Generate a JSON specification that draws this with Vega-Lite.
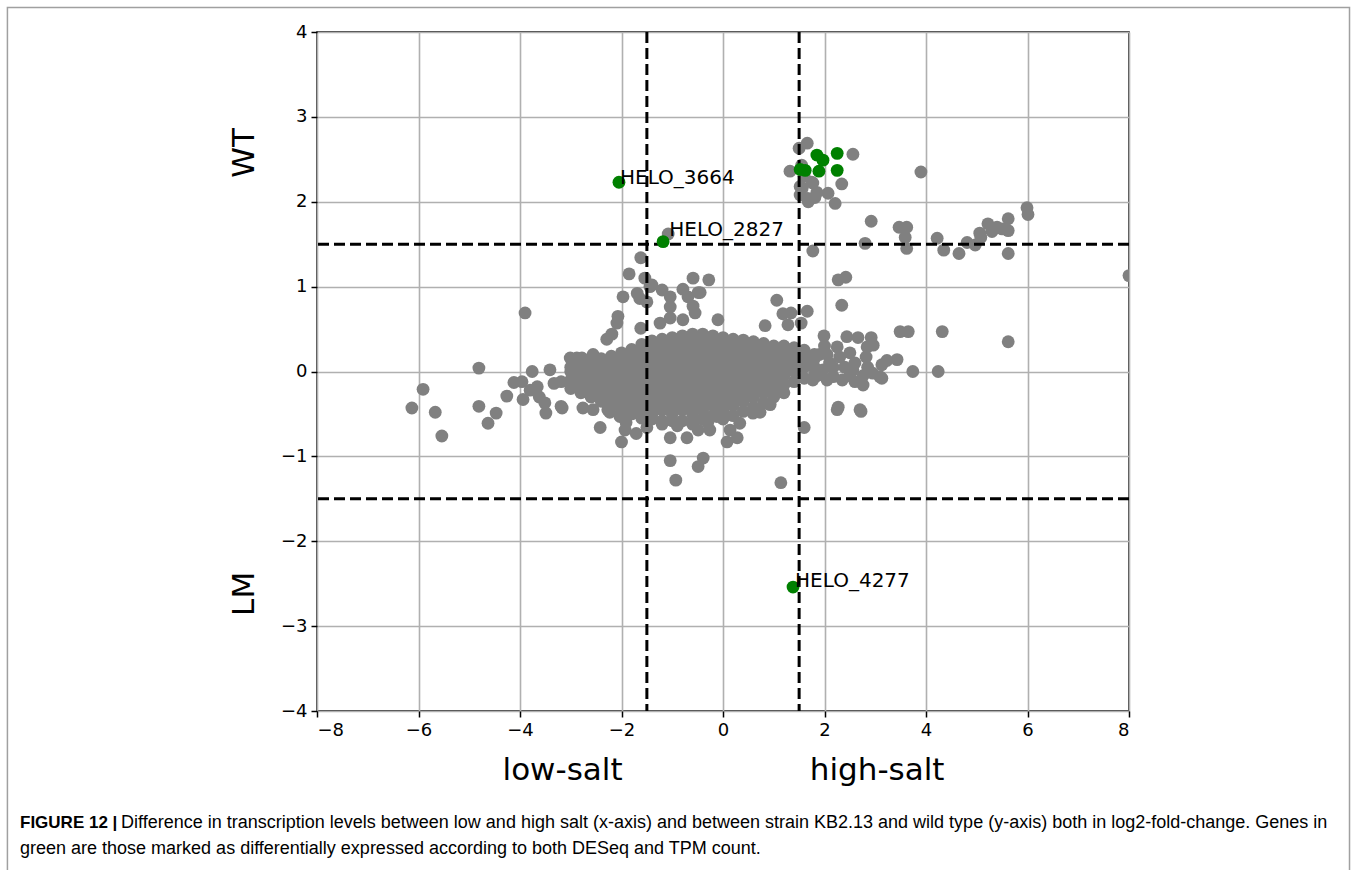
{
  "$schema": "https://vega.github.io/schema/vega-lite/v6.json",
  "width": 812,
  "height": 679,
  "autosize": {"type": "none"},
  "padding": {"left": 317, "top": 32, "right": 228, "bottom": 159},
  "background": "white",
  "config": {
    "view": {"stroke": "black", "strokeWidth": 1.5},
    "font": "DejaVu Sans",
    "axis": {
      "grid": true, "gridColor": "#b0b0b0", "gridWidth": 1.6,
      "domain": false, "tickColor": "black", "tickWidth": 1.5, "tickSize": 6,
      "labelFont": "DejaVu Sans", "labelFontSize": 18, "labelColor": "black", "labelPadding": 4,
      "titleFont": "DejaVu Sans", "titleFontSize": 31, "titleFontWeight": "normal", "titleColor": "black"
    }
  },
  "datasets": {
    "gray": [
      {"x":-3.0,"y":-0.2},{"x":-3.0,"y":-0.1},{"x":-3.0,"y":0.0},{"x":-3.0,"y":0.05},
      {"x":-2.8,"y":-0.25},{"x":-2.8,"y":-0.15},{"x":-2.8,"y":-0.05},{"x":-2.8,"y":0.05},{"x":-2.8,"y":0.1},
      {"x":-2.6,"y":-0.3},{"x":-2.6,"y":-0.2},{"x":-2.6,"y":-0.1},{"x":-2.6,"y":0.0},{"x":-2.6,"y":0.1},
      {"x":-2.4,"y":-0.35},{"x":-2.4,"y":-0.25},{"x":-2.4,"y":-0.15},{"x":-2.4,"y":-0.05},{"x":-2.4,"y":0.05},{"x":-2.4,"y":0.15},
      {"x":-2.2,"y":-0.4},{"x":-2.2,"y":-0.3},{"x":-2.2,"y":-0.2},{"x":-2.2,"y":-0.1},{"x":-2.2,"y":0.0},{"x":-2.2,"y":0.1},{"x":-2.2,"y":0.18},
      {"x":-2.0,"y":-0.45},{"x":-2.0,"y":-0.35},{"x":-2.0,"y":-0.25},{"x":-2.0,"y":-0.15},{"x":-2.0,"y":-0.05},{"x":-2.0,"y":0.05},{"x":-2.0,"y":0.15},{"x":-2.0,"y":0.22},
      {"x":-1.8,"y":-0.5},{"x":-1.8,"y":-0.4},{"x":-1.8,"y":-0.3},{"x":-1.8,"y":-0.2},{"x":-1.8,"y":-0.1},{"x":-1.8,"y":0.0},{"x":-1.8,"y":0.1},{"x":-1.8,"y":0.2},{"x":-1.8,"y":0.26},
      {"x":-1.6,"y":-0.55},{"x":-1.6,"y":-0.45},{"x":-1.6,"y":-0.35},{"x":-1.6,"y":-0.25},{"x":-1.6,"y":-0.15},{"x":-1.6,"y":-0.05},{"x":-1.6,"y":0.05},{"x":-1.6,"y":0.15},{"x":-1.6,"y":0.25},{"x":-1.6,"y":0.32},
      {"x":-1.4,"y":-0.56},{"x":-1.4,"y":-0.5},{"x":-1.4,"y":-0.4},{"x":-1.4,"y":-0.3},{"x":-1.4,"y":-0.2},{"x":-1.4,"y":-0.1},{"x":-1.4,"y":0.0},{"x":-1.4,"y":0.1},{"x":-1.4,"y":0.2},{"x":-1.4,"y":0.3},{"x":-1.4,"y":0.36},
      {"x":-1.2,"y":-0.58},{"x":-1.2,"y":-0.45},{"x":-1.2,"y":-0.35},{"x":-1.2,"y":-0.25},{"x":-1.2,"y":-0.15},{"x":-1.2,"y":-0.05},{"x":-1.2,"y":0.05},{"x":-1.2,"y":0.15},{"x":-1.2,"y":0.25},{"x":-1.2,"y":0.35},{"x":-1.2,"y":0.38},
      {"x":-1.0,"y":-0.58},{"x":-1.0,"y":-0.5},{"x":-1.0,"y":-0.4},{"x":-1.0,"y":-0.3},{"x":-1.0,"y":-0.2},{"x":-1.0,"y":-0.1},{"x":-1.0,"y":0.0},{"x":-1.0,"y":0.1},{"x":-1.0,"y":0.2},{"x":-1.0,"y":0.3},{"x":-1.0,"y":0.4},
      {"x":-0.8,"y":-0.58},{"x":-0.8,"y":-0.45},{"x":-0.8,"y":-0.35},{"x":-0.8,"y":-0.25},{"x":-0.8,"y":-0.15},{"x":-0.8,"y":-0.05},{"x":-0.8,"y":0.05},{"x":-0.8,"y":0.15},{"x":-0.8,"y":0.25},{"x":-0.8,"y":0.35},{"x":-0.8,"y":0.42},
      {"x":-0.6,"y":-0.58},{"x":-0.6,"y":-0.5},{"x":-0.6,"y":-0.4},{"x":-0.6,"y":-0.3},{"x":-0.6,"y":-0.2},{"x":-0.6,"y":-0.1},{"x":-0.6,"y":0.0},{"x":-0.6,"y":0.1},{"x":-0.6,"y":0.2},{"x":-0.6,"y":0.3},{"x":-0.6,"y":0.4},{"x":-0.6,"y":0.44},
      {"x":-0.4,"y":-0.56},{"x":-0.4,"y":-0.45},{"x":-0.4,"y":-0.35},{"x":-0.4,"y":-0.25},{"x":-0.4,"y":-0.15},{"x":-0.4,"y":-0.05},{"x":-0.4,"y":0.05},{"x":-0.4,"y":0.15},{"x":-0.4,"y":0.25},{"x":-0.4,"y":0.35},{"x":-0.4,"y":0.44},
      {"x":-0.2,"y":-0.52},{"x":-0.2,"y":-0.4},{"x":-0.2,"y":-0.3},{"x":-0.2,"y":-0.2},{"x":-0.2,"y":-0.1},{"x":-0.2,"y":0.0},{"x":-0.2,"y":0.1},{"x":-0.2,"y":0.2},{"x":-0.2,"y":0.3},{"x":-0.2,"y":0.4},{"x":-0.2,"y":0.42},
      {"x":0.0,"y":-0.46},{"x":0.0,"y":-0.35},{"x":0.0,"y":-0.25},{"x":0.0,"y":-0.15},{"x":0.0,"y":-0.05},{"x":0.0,"y":0.05},{"x":0.0,"y":0.15},{"x":0.0,"y":0.25},{"x":0.0,"y":0.35},{"x":0.0,"y":0.4},
      {"x":0.2,"y":-0.4},{"x":0.2,"y":-0.3},{"x":0.2,"y":-0.2},{"x":0.2,"y":-0.1},{"x":0.2,"y":0.0},{"x":0.2,"y":0.1},{"x":0.2,"y":0.2},{"x":0.2,"y":0.3},{"x":0.2,"y":0.38},
      {"x":0.4,"y":-0.35},{"x":0.4,"y":-0.25},{"x":0.4,"y":-0.15},{"x":0.4,"y":-0.05},{"x":0.4,"y":0.05},{"x":0.4,"y":0.15},{"x":0.4,"y":0.25},{"x":0.4,"y":0.35},{"x":0.4,"y":0.37},
      {"x":0.6,"y":-0.3},{"x":0.6,"y":-0.2},{"x":0.6,"y":-0.1},{"x":0.6,"y":0.0},{"x":0.6,"y":0.1},{"x":0.6,"y":0.2},{"x":0.6,"y":0.3},{"x":0.6,"y":0.35},
      {"x":0.8,"y":-0.25},{"x":0.8,"y":-0.15},{"x":0.8,"y":-0.05},{"x":0.8,"y":0.05},{"x":0.8,"y":0.15},{"x":0.8,"y":0.25},{"x":0.8,"y":0.33},
      {"x":1.0,"y":-0.2},{"x":1.0,"y":-0.1},{"x":1.0,"y":0.0},{"x":1.0,"y":0.1},{"x":1.0,"y":0.2},{"x":1.0,"y":0.3},
      {"x":1.2,"y":-0.16},{"x":1.2,"y":-0.05},{"x":1.2,"y":0.05},{"x":1.2,"y":0.15},{"x":1.2,"y":0.25},{"x":1.2,"y":0.3},
      {"x":1.4,"y":-0.12},{"x":1.4,"y":0.0},{"x":1.4,"y":0.1},{"x":1.4,"y":0.2},{"x":1.4,"y":0.28},
      {"x":1.6,"y":-0.08},{"x":1.6,"y":0.05},{"x":1.6,"y":0.15},{"x":1.6,"y":0.25},
      {"x":1.8,"y":-0.04},{"x":1.8,"y":0.05},{"x":1.8,"y":0.15},{"x":1.8,"y":0.2},
      {"x":-1.2,"y":-0.62},{"x":-0.9,"y":-0.64},{"x":-0.6,"y":-0.62},{"x":-0.3,"y":-0.6},{"x":0.0,"y":-0.56},{"x":0.2,"y":-0.52},{"x":0.4,"y":-0.47},{"x":0.6,"y":-0.42},{"x":0.8,"y":-0.37},{"x":1.0,"y":-0.3},{"x":1.2,"y":-0.25},
      {"x":0.59,"y":-0.49},{"x":0.73,"y":-0.48},{"x":0.93,"y":-0.39},{"x":0.33,"y":-0.61},{"x":-0.12,"y":-0.53},
      {"x":-6.13,"y":-0.43},{"x":-5.91,"y":-0.21},{"x":-5.67,"y":-0.48},{"x":-5.54,"y":-0.76},{"x":-4.81,"y":0.04},{"x":-4.81,"y":-0.41},{"x":-4.63,"y":-0.61},{"x":-4.47,"y":-0.49},{"x":-4.26,"y":-0.29},{"x":-4.12,"y":-0.13},{"x":-3.94,"y":-0.33},{"x":-3.96,"y":-0.12},{"x":-3.9,"y":0.69},{"x":-3.76,"y":0.0},{"x":-3.8,"y":-0.22},{"x":-3.66,"y":-0.18},{"x":-3.62,"y":-0.3},{"x":-3.49,"y":-0.49},{"x":-3.51,"y":-0.37},{"x":-3.41,"y":0.02},{"x":-3.33,"y":-0.14},{"x":-3.19,"y":-0.12},{"x":-3.19,"y":-0.41},{"x":-3.01,"y":0.16},{"x":-3.17,"y":-0.43},{"x":-2.88,"y":0.16},{"x":-2.78,"y":0.16},{"x":-2.56,"y":0.2},{"x":-2.76,"y":-0.43},{"x":-2.56,"y":-0.45},{"x":-2.42,"y":-0.66},{"x":-2.27,"y":-0.45},{"x":-2.23,"y":-0.48},{"x":-2.03,"y":-0.53},{"x":-2.0,"y":-0.83},{"x":-1.91,"y":-0.6},{"x":-1.93,"y":-0.69},{"x":-1.8,"y":-0.49},{"x":-1.71,"y":-0.73},{"x":-1.5,"y":-0.66},{"x":-1.04,"y":-0.78},{"x":-1.04,"y":-1.05},{"x":-0.93,"y":-1.28},{"x":-0.71,"y":-0.78},{"x":-0.49,"y":-1.12},{"x":-0.39,"y":-1.02},{"x":-0.26,"y":-0.69},{"x":-0.49,"y":-0.69},{"x":0.08,"y":-0.83},{"x":0.14,"y":-0.69},{"x":0.28,"y":-0.78},{"x":1.14,"y":-1.31},{"x":1.6,"y":-0.66},
      {"x":-1.62,"y":1.34},{"x":-1.85,"y":1.15},{"x":-1.54,"y":1.1},{"x":-1.4,"y":1.02},{"x":-1.2,"y":0.96},{"x":-1.69,"y":0.92},{"x":-1.64,"y":0.86},{"x":-1.5,"y":0.82},{"x":-1.97,"y":0.88},{"x":-2.07,"y":0.65},{"x":-2.09,"y":0.57},{"x":-1.62,"y":0.51},{"x":-2.19,"y":0.44},{"x":-2.29,"y":0.38},{"x":-1.04,"y":0.88},{"x":-1.04,"y":0.76},{"x":-1.04,"y":0.63},{"x":-1.24,"y":0.57},{"x":-0.59,"y":1.1},{"x":-0.28,"y":1.08},{"x":-0.79,"y":0.97},{"x":-0.49,"y":0.93},{"x":-0.69,"y":0.88},{"x":-0.59,"y":0.77},{"x":-0.55,"y":0.69},{"x":-0.79,"y":0.61},{"x":-0.1,"y":0.61},{"x":-0.45,"y":0.93},{"x":-1.44,"y":1.0},{"x":-1.08,"y":1.62},
      {"x":1.06,"y":0.84},{"x":1.18,"y":0.68},{"x":1.34,"y":0.69},{"x":1.28,"y":0.55},{"x":1.54,"y":0.57},{"x":1.66,"y":0.71},{"x":1.77,"y":1.42},{"x":0.83,"y":0.54},{"x":2.27,"y":1.08},{"x":2.42,"y":1.11},{"x":2.34,"y":0.78},{"x":1.99,"y":0.42},{"x":2.44,"y":0.41},{"x":2.66,"y":0.4},{"x":2.92,"y":0.4},{"x":2.96,"y":0.31},{"x":2.25,"y":0.29},{"x":2.84,"y":0.29},{"x":2.82,"y":0.17},{"x":3.13,"y":0.08},{"x":3.23,"y":0.13},{"x":3.43,"y":0.14},{"x":3.09,"y":-0.06},{"x":2.76,"y":-0.05},{"x":2.56,"y":0.02},{"x":2.17,"y":-0.06},{"x":2.17,"y":0.05},{"x":2.27,"y":-0.42},{"x":2.25,"y":-0.45},{"x":2.72,"y":-0.47},{"x":2.7,"y":-0.45},{"x":1.77,"y":0.1},{"x":1.77,"y":-0.1},{"x":1.97,"y":0.02},{"x":2.05,"y":-0.1},{"x":2.05,"y":0.2},{"x":2.3,"y":0.17},{"x":2.5,"y":0.22},{"x":2.6,"y":0.1},{"x":2.4,"y":0.05},{"x":2.0,"y":0.3},{"x":1.9,"y":0.2},{"x":2.1,"y":0.1},{"x":1.85,"y":-0.05},{"x":2.35,"y":-0.1},{"x":2.5,"y":-0.05},{"x":2.85,"y":0.05},{"x":2.95,"y":-0.02},{"x":2.6,"y":-0.12},{"x":3.49,"y":0.47},{"x":3.65,"y":0.47},{"x":4.32,"y":0.47},{"x":5.62,"y":0.35},{"x":3.74,"y":0.0},{"x":4.24,"y":0.0},{"x":3.13,"y":-0.08},{"x":2.76,"y":-0.16},{"x":8.0,"y":1.13},
      {"x":1.66,"y":2.69},{"x":1.5,"y":2.63},{"x":1.32,"y":2.36},{"x":2.56,"y":2.56},{"x":3.9,"y":2.35},{"x":2.34,"y":2.21},{"x":2.07,"y":2.1},{"x":2.21,"y":1.98},{"x":1.52,"y":2.18},{"x":1.52,"y":2.08},{"x":1.68,"y":2.0},{"x":1.81,"y":2.05},{"x":1.77,"y":2.22},{"x":1.56,"y":2.16},{"x":1.75,"y":2.23},{"x":1.85,"y":2.11},{"x":1.67,"y":2.04},{"x":1.6,"y":2.3},{"x":1.55,"y":2.43},
      {"x":2.92,"y":1.77},{"x":3.47,"y":1.7},{"x":3.62,"y":1.7},{"x":3.59,"y":1.58},{"x":3.62,"y":1.45},{"x":2.8,"y":1.51},{"x":4.22,"y":1.57},{"x":4.35,"y":1.43},{"x":4.65,"y":1.39},{"x":4.81,"y":1.52},{"x":4.97,"y":1.49},{"x":5.08,"y":1.58},{"x":5.06,"y":1.63},{"x":5.22,"y":1.74},{"x":5.3,"y":1.65},{"x":5.4,"y":1.7},{"x":5.5,"y":1.68},{"x":5.62,"y":1.8},{"x":5.62,"y":1.66},{"x":5.62,"y":1.39},{"x":5.99,"y":1.93},{"x":6.01,"y":1.85}
    ],
    "green": [
      {"x":1.52,"y":2.38},{"x":1.62,"y":2.37},{"x":1.85,"y":2.55},{"x":1.97,"y":2.49},{"x":1.89,"y":2.36},{"x":2.25,"y":2.57},{"x":2.25,"y":2.37},{"x":-2.05,"y":2.23},{"x":-1.18,"y":1.53},{"x":1.38,"y":-2.54}
    ],
    "labels": [
      {"gene":"HELO_3664","x":-2.03,"y":2.21},
      {"gene":"HELO_2827","x":-1.06,"y":1.6},
      {"gene":"HELO_4277","x":1.42,"y":-2.54}
    ],
    "vlines": [{"v":-1.5},{"v":1.5}],
    "hlines": [{"v":1.5},{"v":-1.5}]
  },
  "layer": [
    {
      "data": {"values": [{}]},
      "mark": {"type": "rect", "fill": null, "stroke": "#a0a0a0", "strokeWidth": 1.5, "clip": false},
      "encoding": {
        "x": {"datum": -14.1, "type": "quantitative", "scale": {"domain": [-8, 8], "nice": false}, "axis": {"values": [-8,-6,-4,-2,0,2,4,6,8], "format": "d", "title": "low-salt\u00a0\u00a0\u00a0\u00a0\u00a0\u00a0\u00a0\u00a0\u00a0\u00a0\u00a0\u00a0\u00a0\u00a0\u00a0\u00a0\u00a0\u00a0\u00a0high-salt", "titlePadding": 16}},
        "x2": {"datum": 12.345},
        "y": {"datum": 4.29, "type": "quantitative", "scale": {"domain": [-4, 4], "nice": false}, "axis": {"values": [-4,-3,-2,-1,0,1,2,3,4], "format": "d", "title": "LM\u00a0\u00a0\u00a0\u00a0\u00a0\u00a0\u00a0\u00a0\u00a0\u00a0\u00a0\u00a0\u00a0\u00a0\u00a0\u00a0\u00a0\u00a0\u00a0\u00a0\u00a0\u00a0\u00a0\u00a0\u00a0\u00a0\u00a0\u00a0\u00a0\u00a0\u00a0\u00a0\u00a0\u00a0\u00a0\u00a0\u00a0\u00a0\u00a0\u00a0WT", "titlePadding": 20}},
        "y2": {"datum": -6.3}
      }
    },
    {
      "data": {"name": "gray"},
      "mark": {"type": "point", "shape": "circle", "filled": true, "color": "#808080", "opacity": 1, "size": 165, "clip": true},
      "encoding": {"x": {"field": "x", "type": "quantitative"}, "y": {"field": "y", "type": "quantitative"}}
    },
    {
      "data": {"name": "vlines"},
      "mark": {"type": "rule", "color": "black", "strokeWidth": 3, "strokeDash": [11, 5]},
      "encoding": {"x": {"field": "v", "type": "quantitative"}}
    },
    {
      "data": {"name": "hlines"},
      "mark": {"type": "rule", "color": "black", "strokeWidth": 3, "strokeDash": [11, 5]},
      "encoding": {"y": {"field": "v", "type": "quantitative"}}
    },
    {
      "data": {"name": "green"},
      "mark": {"type": "point", "shape": "circle", "filled": true, "color": "#008000", "opacity": 1, "size": 165},
      "encoding": {"x": {"field": "x", "type": "quantitative"}, "y": {"field": "y", "type": "quantitative"}}
    },
    {
      "data": {"name": "labels"},
      "mark": {"type": "text", "align": "left", "baseline": "alphabetic", "fontSize": 20, "font": "DejaVu Sans", "color": "black"},
      "encoding": {"x": {"field": "x", "type": "quantitative"}, "y": {"field": "y", "type": "quantitative"}, "text": {"field": "gene"}}
    },
    {
      "data": {"values": [{}]},
      "mark": {"type": "text", "align": "left", "baseline": "alphabetic", "fontSize": 17, "font": "Liberation Sans", "fontWeight": "bold", "color": "black", "clip": false},
      "encoding": {"x": {"datum": -13.852}, "y": {"datum": -5.378}, "text": {"value": "FIGURE 12 |"}}
    },
    {
      "data": {"values": [{}]},
      "mark": {"type": "text", "align": "left", "baseline": "alphabetic", "fontSize": 18, "font": "Liberation Sans", "color": "black", "clip": false},
      "encoding": {"x": {"datum": -11.862}, "y": {"datum": -5.378}, "text": {"value": "Difference in transcription levels between low and high salt (x-axis) and between strain KB2.13 and wild type (y-axis) both in log2-fold-change. Genes in"}}
    },
    {
      "data": {"values": [{}]},
      "mark": {"type": "text", "align": "left", "baseline": "alphabetic", "fontSize": 18, "font": "Liberation Sans", "color": "black", "clip": false},
      "encoding": {"x": {"datum": -13.852}, "y": {"datum": -5.685}, "text": {"value": "green are those marked as differentially expressed according to both DESeq and TPM count."}}
    }
  ]
}
